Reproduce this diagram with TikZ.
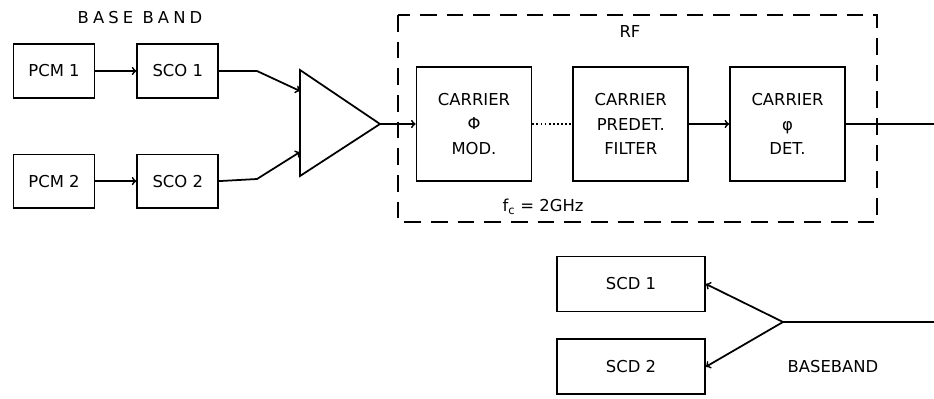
\documentclass[tikz,border=0pt]{standalone}
\usepackage{fontspec}
\setmainfont{DejaVu Sans}
\usetikzlibrary{positioning}
\begin{document}
\begin{tikzpicture}[
  x=0.03cm, y=-0.03cm,
  box/.style={draw, line width=1.5pt, align=center, inner sep=3pt, minimum width=2.43cm, minimum height=1.6cm, font=\fontsize{14}{17}\selectfont},
  cbox/.style={box, minimum width=3.45cm, minimum height=3.42cm, font=\fontsize{14}{21}\selectfont},
  tag/.style={font=\fontsize{14}{17}\selectfont},
  arrow/.style={->, line width=1.5pt},
  wire/.style={line width=1.5pt}
]
\useasboundingbox (0,0) rectangle (934,399);
% baseband input side
\node[tag] (bbin) at (140,18) {\addfontfeature{LetterSpace=25}BASE BAND};
\node[box] (pcm1) at (54,71) {PCM 1};
\node[box] (sco1) [right=1.23cm of pcm1] {SCO 1};
\node[box] (pcm2) [below=1.65cm of pcm1] {PCM 2};
\node[box] (sco2) [right=1.23cm of pcm2] {SCO 2};
\draw[arrow] (pcm1) -- (sco1);
\draw[arrow] (pcm2) -- (sco2);
% amplifier
\coordinate (amptop) at (300,70);
\coordinate (ampbot) at (300,176);
\coordinate (ampout) at (380,124);
\coordinate (in1) at (300,91);
\coordinate (in2) at (300,152);
\coordinate (bend1) at (257,71);
\coordinate (bend2) at (257,179);
\draw[wire] (amptop) -- (ampout) -- (ampbot) -- cycle;
\draw[arrow] (sco1.east) -- (bend1) -- (in1);
\draw[arrow] (sco2.east) -- (bend2) -- (in2);
% RF section
\draw[line width=1.5pt, dash pattern=on 0.5cm off 0.3cm] (398,15) rectangle (877,222);
\node[tag] (rf) at (630,32) {RF};
\node[cbox] (mod) at (474,124) {CARRIER\\Φ\\MOD.};
\node[cbox] (filter) [right=1.2cm of mod] {CARRIER\\PREDET.\\FILTER};
\node[cbox] (det) [right=1.2cm of filter] {CARRIER\\φ\\DET.};
\node[tag] (fc) at (543,207) {f\textsubscript{c} = 2GHz};
\coordinate (outR) at (934,124);
\draw[arrow] (ampout) -- (mod);
\draw[wire, dotted] (mod) -- (filter);
\draw[arrow] (filter) -- (det);
\draw[wire] (det) -- (outR);
% baseband output side
\node[box, minimum width=4.44cm, minimum height=1.65cm] (scd1) at (631,284) {SCD 1};
\node[box, minimum width=4.44cm, minimum height=1.65cm] (scd2) [below=0.78cm of scd1] {SCD 2};
\coordinate (inR) at (934,322);
\coordinate (split) at (783,322);
\draw[wire] (inR) -- (split);
\draw[arrow] (split) -- (scd1.east);
\draw[arrow] (split) -- (scd2.east);
\node[tag] (bbout) at (833,367) {BASEBAND};
\end{tikzpicture}
\end{document}
